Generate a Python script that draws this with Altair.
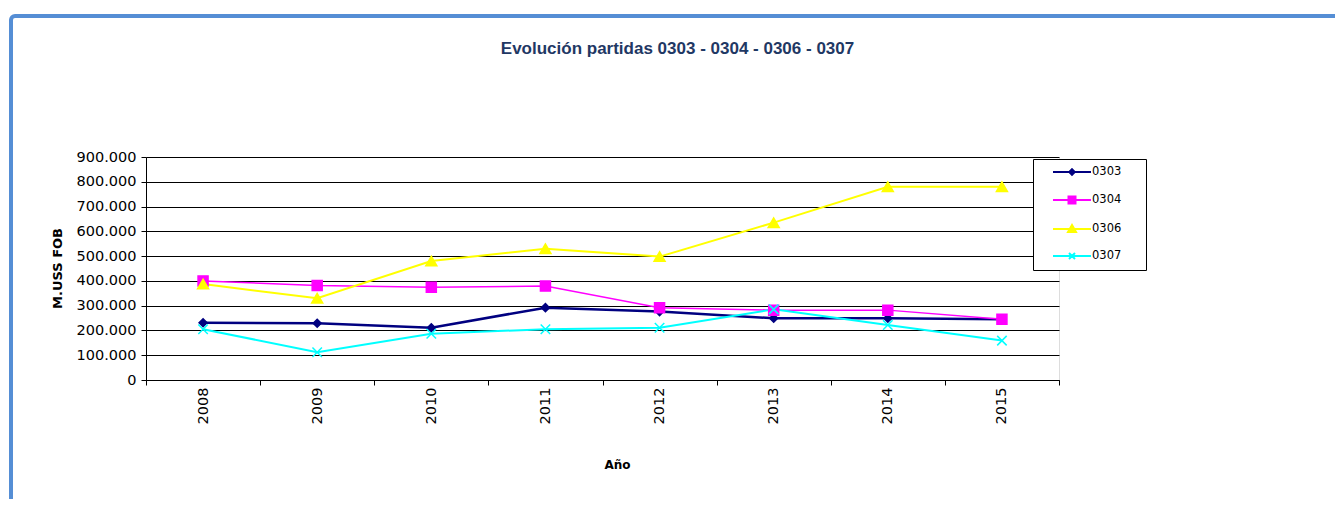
import altair as alt
import pandas as pd

years = ["2008", "2009", "2010", "2011", "2012", "2013", "2014", "2015"]
series_names = ["0303", "0304", "0306", "0307"]
marker_names = ["m0303", "m0304", "m0306", "m0307"]
s0303 = [231000, 229000, 211000, 292000, 276000, 249000, 249000, 245000]
s0304 = [400000, 381000, 374000, 379000, 292000, 282000, 282000, 245000]
s0306 = [387000, 330000, 480000, 530000, 498000, 635000, 780000, 780000]
s0307 = [205000, 112000, 187000, 205000, 211000, 285000, 222000, 159000]
y_ticks = [0, 100000, 200000, 300000, 400000, 500000, 600000, 700000, 800000, 900000]

colors = ["#000080", "#ff00ff", "#ffff00", "#00ffff"]
shapes = ["diamond", "square", "triangle-up", "M-1,-1L1,1M1,-1L-1,1"]
sizes = [64, 100, 121, 90]
widths = [2.5, 1.5, 2, 2]

rows = []
for name, mname, vals in zip(series_names, marker_names, [s0303, s0304, s0306, s0307]):
    for yr, v in zip(years, vals):
        rows.append({"year": yr, "serie": name, "marker": mname, "value": v})
df = pd.DataFrame(rows)

legend_shape = (
    "datum.value === '0303' ? 'M-3.8,0L3.8,0M0,-0.55L0.55,0L0,0.55L-0.55,0Z' : "
    "datum.value === '0304' ? 'M-3.8,0L3.8,0M-0.7,-0.7L0.7,-0.7L0.7,0.7L-0.7,0.7Z' : "
    "datum.value === '0306' ? 'M-3.8,0L3.8,0M0,-0.8L0.8,0.6L-0.8,0.6Z' : "
    "'M-3.8,0L3.8,0M-0.6,-0.6L0.6,0.6M0.6,-0.6L-0.6,0.6'"
)

legend = alt.Legend(
    title=None,
    orient="none",
    legendX=887,
    legendY=2,
    padding=7,
    rowPadding=13,
    symbolSize=100,
    symbolOffset=26,
    labelOffset=14,
    labelFont="DejaVu Sans",
    labelFontSize=11.5,
    labelColor="black",
    labelExpr="datum.label + '\u2800\u2800'",
    strokeColor="black",
    fillColor="white",
    cornerRadius=0,
    symbolType={"expr": legend_shape},
    symbolStrokeColor={"expr": "scale('color', datum.value)"},
    symbolFillColor={"expr": "scale('color', datum.value)"},
    symbolStrokeWidth=2,
    symbolOpacity=1,
)

x_enc = alt.X(
    "year:O",
    scale=alt.Scale(type="band", paddingInner=0, paddingOuter=0),
    axis=alt.Axis(
        title="Año",
        labelAngle=270,
        labelAlign="right",
        labelBaseline="middle",
        tickBand="extent",
        domainColor="black",
        tickColor="black",
        tickSize=5,
        labelPadding=2,
        labelFont="DejaVu Sans",
        labelFontSize=14.5,
        labelColor="black",
        titleFont="DejaVu Sans",
        titleFontSize=12,
        titleFontWeight="bold",
        titleColor="black",
        titleY=84,
        titleX=471,
        titleBaseline="middle",
        grid=False,
    ),
)
y_enc = alt.Y(
    "value:Q",
    scale=alt.Scale(domain=[0, 900000], nice=False),
    axis=alt.Axis(
        values=y_ticks,
        labelExpr="replace(format(datum.value, ','), ',', '.')",
        title="M.USS FOB",
        grid=True,
        gridColor="black",
        gridWidth=1,
        gridOpacity=1,
        domainColor="black",
        tickColor="black",
        tickSize=5,
        labelPadding=5,
        labelFont="DejaVu Sans",
        labelFontSize=14.5,
        labelColor="black",
        titleFont="DejaVu Sans",
        titleFontSize=13,
        titleFontWeight="bold",
        titleColor="black",
        titleX=-89,
        titleY=111,
        titleAlign="center",
        titleBaseline="middle",
    ),
)

base = alt.Chart(df).encode(x=x_enc, y=y_enc)

lines = base.mark_line().encode(
    color=alt.Color("serie:N", scale=alt.Scale(domain=series_names, range=colors), legend=legend),
    strokeWidth=alt.StrokeWidth(
        "marker:N", scale=alt.Scale(type="ordinal", domain=marker_names, range=widths), legend=None
    ),
)
points = base.mark_point(filled=True, opacity=1, strokeWidth=1.5).encode(
    fill=alt.Fill("marker:N", scale=alt.Scale(domain=marker_names, range=colors), legend=None),
    stroke=alt.Stroke("marker:N", scale=alt.Scale(domain=marker_names, range=colors), legend=None),
    shape=alt.Shape("marker:N", scale=alt.Scale(domain=marker_names, range=shapes), legend=None),
    size=alt.Size("marker:N", scale=alt.Scale(type="ordinal", domain=marker_names, range=sizes), legend=None),
)

frame = alt.Chart(pd.DataFrame({"a": [0]})).mark_rect(
    fill="transparent", stroke="#558ed5", strokeWidth=4, cornerRadius=4
).encode(
    x=alt.value(-135), x2=alt.value(1400), y=alt.value(-141), y2=alt.value(700)
)

chart = alt.layer(frame, lines, points).properties(
    width=913,
    height=223,
    autosize="none",
    padding={"left": 138, "top": 149, "right": 276, "bottom": 119},
    title=alt.TitleParams(
        "Evolución partidas 0303 - 0304 - 0306 - 0307",
        font="Liberation Sans",
        fontSize=17,
        fontWeight="bold",
        color="#1f3864",
        anchor="middle",
        frame="group",
        dx=75,
        dy=44,
        offset=0,
    ),
).configure_view(fill="#c0c0c0", stroke="#808080", strokeWidth=1.5).configure(background="white")

chart.save("out.html", embed_options={"renderer": "svg", "actions": False})
